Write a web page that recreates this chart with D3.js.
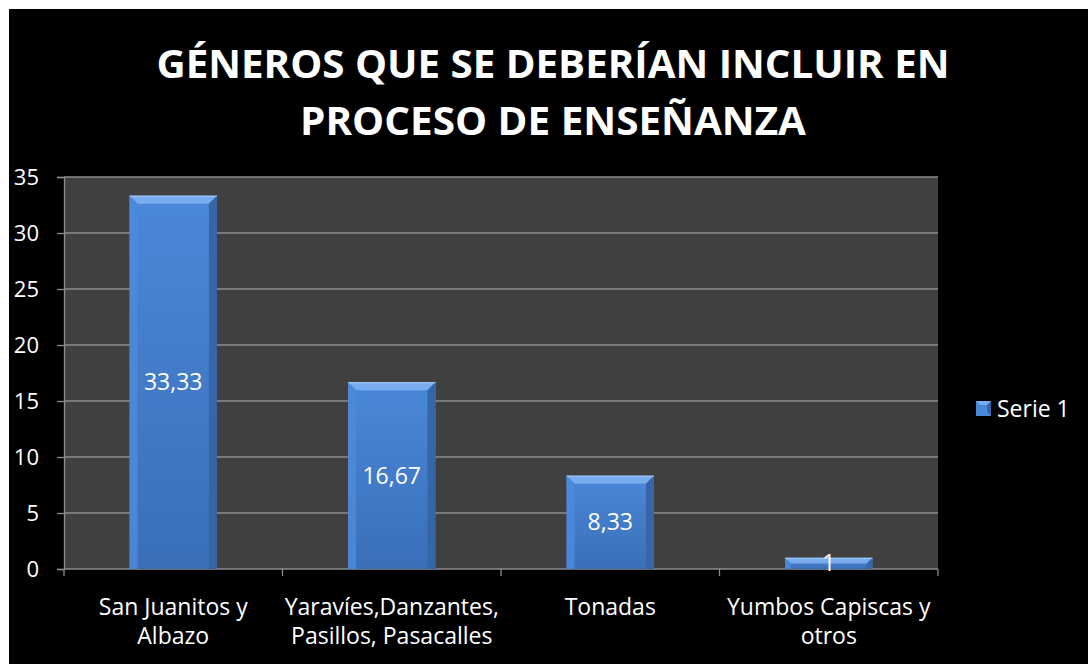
<!DOCTYPE html>
<html>
<head>
<meta charset="utf-8">
<script src="https://cdn.jsdelivr.net/npm/d3@7"></script>
<style>
  body { margin: 0; background: #fff; }
  svg { display: block; }
  text { font-family: "Open Sans", "DejaVu Sans", sans-serif; fill: #fff; }
</style>
</head>
<body>
<div id="chart"></div>
<script>
const categories = [
    ['San Juanitos y', 'Albazo'],
    ['Yaravíes,Danzantes,', 'Pasillos, Pasacalles'],
    ['Tonadas'],
    ['Yumbos Capiscas y', 'otros']
];
const values = [33.33, 16.67, 8.33, 1];
const valueLabels = ['33,33', '16,67', '8,33', '1'];
const yTicks = [0, 5, 10, 15, 20, 25, 30, 35];
const titleLines = ['GÉNEROS QUE SE DEBERÍAN INCLUIR EN', 'PROCESO DE ENSEÑANZA'];
const seriesName = 'Serie 1';

const W = 1088, H = 664;
const plot = { left: 64, right: 938, top: 177, bottom: 569 };

const svg = d3.select('#chart').append('svg')
    .attr('width', W)
    .attr('height', H);

// black chart area inside a thin white frame
svg.append('rect').attr('x', 9).attr('y', 9).attr('width', W - 9).attr('height', H - 9).attr('fill', '#000');

// title
const titleWidths = [793, 506];
titleLines.forEach((t, i) => {
    svg.append('text')
        .attr('x', 553)
        .attr('y', 78 + i * 57)
        .attr('text-anchor', 'middle')
        .attr('font-size', 40)
        .attr('font-weight', 'bold')
        .attr('textLength', titleWidths[i])
        .attr('lengthAdjust', 'spacingAndGlyphs')
        .text(t);
});

const x = d3.scaleBand()
    .domain(d3.range(categories.length))
    .range([plot.left, plot.right])
    .paddingInner(0.6)
    .paddingOuter(0.3);

const y = d3.scaleLinear()
    .domain([0, 35])
    .range([plot.bottom, plot.top]);

// plot background
svg.append('rect')
    .attr('x', plot.left).attr('y', plot.top)
    .attr('width', plot.right - plot.left).attr('height', plot.bottom - plot.top)
    .attr('fill', '#404040');

// gridlines
svg.append('g').selectAll('line')
    .data(yTicks.filter(d => d > 0))
    .join('line')
    .attr('x1', plot.left).attr('x2', plot.right)
    .attr('y1', d => y(d)).attr('y2', d => y(d))
    .attr('stroke', '#8c8c8c')
    .attr('stroke-width', 1.3);

// y axis
const yAxis = svg.append('g')
    .attr('transform', `translate(${plot.left},0)`)
    .call(d3.axisLeft(y).tickValues(yTicks).tickSize(7).tickPadding(18));
yAxis.select('.domain').attr('stroke', '#8c8c8c').attr('stroke-width', 1.3);
yAxis.selectAll('.tick line').attr('stroke', '#8c8c8c').attr('stroke-width', 1.3);
yAxis.selectAll('.tick text').attr('font-size', 22).attr('fill', '#fff');

// x axis baseline + ticks at band boundaries
const step = (plot.right - plot.left) / categories.length;
const xBounds = d3.range(categories.length + 1).map(i => plot.left + i * step);
svg.append('line')
    .attr('x1', plot.left).attr('x2', plot.right)
    .attr('y1', plot.bottom).attr('y2', plot.bottom)
    .attr('stroke', '#8c8c8c').attr('stroke-width', 1.3);
svg.append('g').selectAll('line')
    .data(xBounds)
    .join('line')
    .attr('x1', d => d).attr('x2', d => d)
    .attr('y1', plot.bottom).attr('y2', plot.bottom + 7)
    .attr('stroke', '#8c8c8c').attr('stroke-width', 1.3);

// gradient for bar face
const defs = svg.append('defs');
const grad = defs.append('linearGradient').attr('id', 'face').attr('x1', 0).attr('x2', 0).attr('y1', 0).attr('y2', 1);
grad.append('stop').attr('offset', '0%').attr('stop-color', '#4a88d8');
grad.append('stop').attr('offset', '100%').attr('stop-color', '#3a6fb8');

// bars with bevel
const bev = 8;
const bars = svg.append('g').selectAll('g')
    .data(values)
    .join('g');

bars.each(function (d, i) {
    const g = d3.select(this);
    const x0 = x(i), x1 = x(i) + x.bandwidth();
    const y0 = y(d), y1 = y(0);
    const b = Math.min(bev, (y1 - y0) / 2);
    g.append('rect').attr('x', x0).attr('y', y0).attr('width', x1 - x0).attr('height', y1 - y0).attr('fill', 'url(#face)');
    // top bevel
    g.append('polygon')
        .attr('points', [[x0, y0], [x1, y0], [x1 - b, y0 + b], [x0 + b, y0 + b]].join(' '))
        .attr('fill', '#78acee');
    // left bevel
    g.append('polygon')
        .attr('points', [[x0, y0], [x0 + b, y0 + b], [x0 + b, y1], [x0, y1]].join(' '))
        .attr('fill', '#4b8ad9').attr('opacity', 0.9);
    // right bevel
    g.append('polygon')
        .attr('points', [[x1, y0], [x1 - b, y0 + b], [x1 - b, y1], [x1, y1]].join(' '))
        .attr('fill', '#3566a8');
    g.append('line').attr('x1', x0).attr('x2', x1).attr('y1', y0 + 0.5).attr('y2', y0 + 0.5)
        .attr('stroke', '#a9ccf5').attr('stroke-width', 1);
});

// value labels
svg.append('g').selectAll('text')
    .data(values)
    .join('text')
    .attr('x', (d, i) => x(i) + x.bandwidth() / 2)
    .attr('y', d => (y(d) + y(0)) / 2 + 8)
    .attr('text-anchor', 'middle')
    .attr('font-size', 23)
    .text((d, i) => valueLabels[i]);

// category labels
const catG = svg.append('g').selectAll('text')
    .data(categories)
    .join('text')
    .attr('x', (d, i) => x(i) + x.bandwidth() / 2)
    .attr('y', 615)
    .attr('text-anchor', 'middle')
    .attr('font-size', 23);
catG.each(function (lines) {
    const t = d3.select(this);
    lines.forEach((l, j) => {
        t.append('tspan')
            .attr('x', t.attr('x'))
            .attr('dy', j === 0 ? 0 : 29)
            .text(l);
    });
});

// legend
const lg = svg.append('g').attr('transform', 'translate(976,401)');
lg.append('rect').attr('width', 15).attr('height', 15).attr('fill', '#4a88d8');
lg.append('polygon').attr('points', '0,0 15,0 11,4 4,4').attr('fill', '#78acee');
lg.append('polygon').attr('points', '15,0 15,15 11,11 11,4').attr('fill', '#3566a8');
lg.append('text').attr('x', 21).attr('y', 16).attr('font-size', 23).text(seriesName);
</script>
</body>
</html>
